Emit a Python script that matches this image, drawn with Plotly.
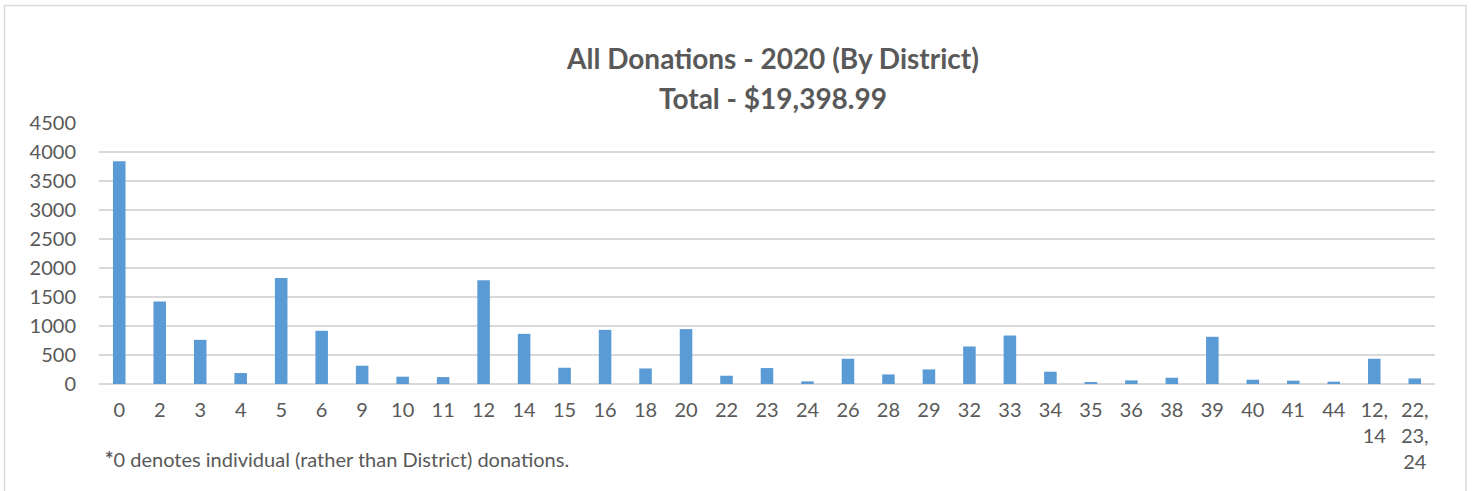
import plotly.graph_objects as go

districts = ["0", "2", "3", "4", "5", "6", "9", "10", "11", "12", "14", "15", "16", "18", "20",
             "22", "23", "24", "26", "28", "29", "32", "33", "34", "35", "36", "38", "39", "40",
             "41", "44", "12,<br>14", "22,<br>23,<br>24"]
donations = [3840, 1421, 762, 189, 1829, 917, 315, 126, 120, 1789, 865, 280, 934, 268, 946,
             143, 275, 45, 435, 165, 251, 647, 836, 212, 22, 62, 108, 814, 74,
             57, 40, 435, 96]
y_ticks = [0, 500, 1000, 1500, 2000, 2500, 3000, 3500, 4000, 4500]

title_line1 = "All Donations - 2020 (By District)"
title_line2 = "Total - $19,398.99"
footnote = "<b>*</b>0 denotes individual (rather than District) donations."

GREY = "#595959"
FONT = "Lato"

W, H = 1473, 491
PL, PR, PT, PB = 99, 1435, 123, 384   # plot area in page px
L, T = PL, PT
R = W - PR
B = H - PB
pw, ph = W - L - R, H - T - B

def px(x):
    return (x - L) / pw

def py(y):
    return (H - B - y) / ph

fig = go.Figure(go.Bar(x=districts, y=donations, marker=dict(color="#5b9bd5", line=dict(width=0)),
                       width=0.31))

fig.update_layout(
    width=W, height=H,
    margin=dict(l=L, r=R, t=T, b=B),
    paper_bgcolor="white", plot_bgcolor="white",
    font=dict(family=FONT, color=GREY, size=20),
    showlegend=False,
    xaxis=dict(type="category", tickfont=dict(size=20, color=GREY), showgrid=False,
               showline=False, ticks="", ticklen=0, ticklabelstandoff=12, automargin=False),
    yaxis=dict(range=[0, 4500], tickvals=y_ticks, showgrid=True, gridcolor="#d9d9d9", gridwidth=1.5,
               zeroline=True, zerolinecolor="#d9d9d9", zerolinewidth=1.5,
               tickfont=dict(size=20, color=GREY), ticks="", ticklen=0, ticklabelstandoff=22,
               automargin=False),
)

cx = 773
fig.add_annotation(x=px(cx), y=py(58), xref="paper", yref="paper", text="<b>" + title_line1 + "</b>",
                   showarrow=False, font=dict(size=28, color=GREY, family=FONT), xanchor="center",
                   yanchor="middle")
fig.add_annotation(x=px(cx), y=py(98), xref="paper", yref="paper", text="<b>" + title_line2 + "</b>",
                   showarrow=False, font=dict(size=28, color=GREY, family=FONT), xanchor="center",
                   yanchor="middle")
fig.add_annotation(x=px(103), y=py(459), xref="paper", yref="paper", text=footnote,
                   showarrow=False, font=dict(size=20, color=GREY, family=FONT), xanchor="left",
                   yanchor="middle")

fig.add_shape(type="rect", xref="paper", yref="paper", x0=px(4.5), x1=px(1466), y0=py(520), y1=py(5.5),
              line=dict(color="#d9d9d9", width=1.5), fillcolor="rgba(0,0,0,0)", layer="below")

fig.write_html("out.html", config={"displayModeBar": False},
               post_script="document.body.style.margin='0';document.body.style.overflow='hidden';")
